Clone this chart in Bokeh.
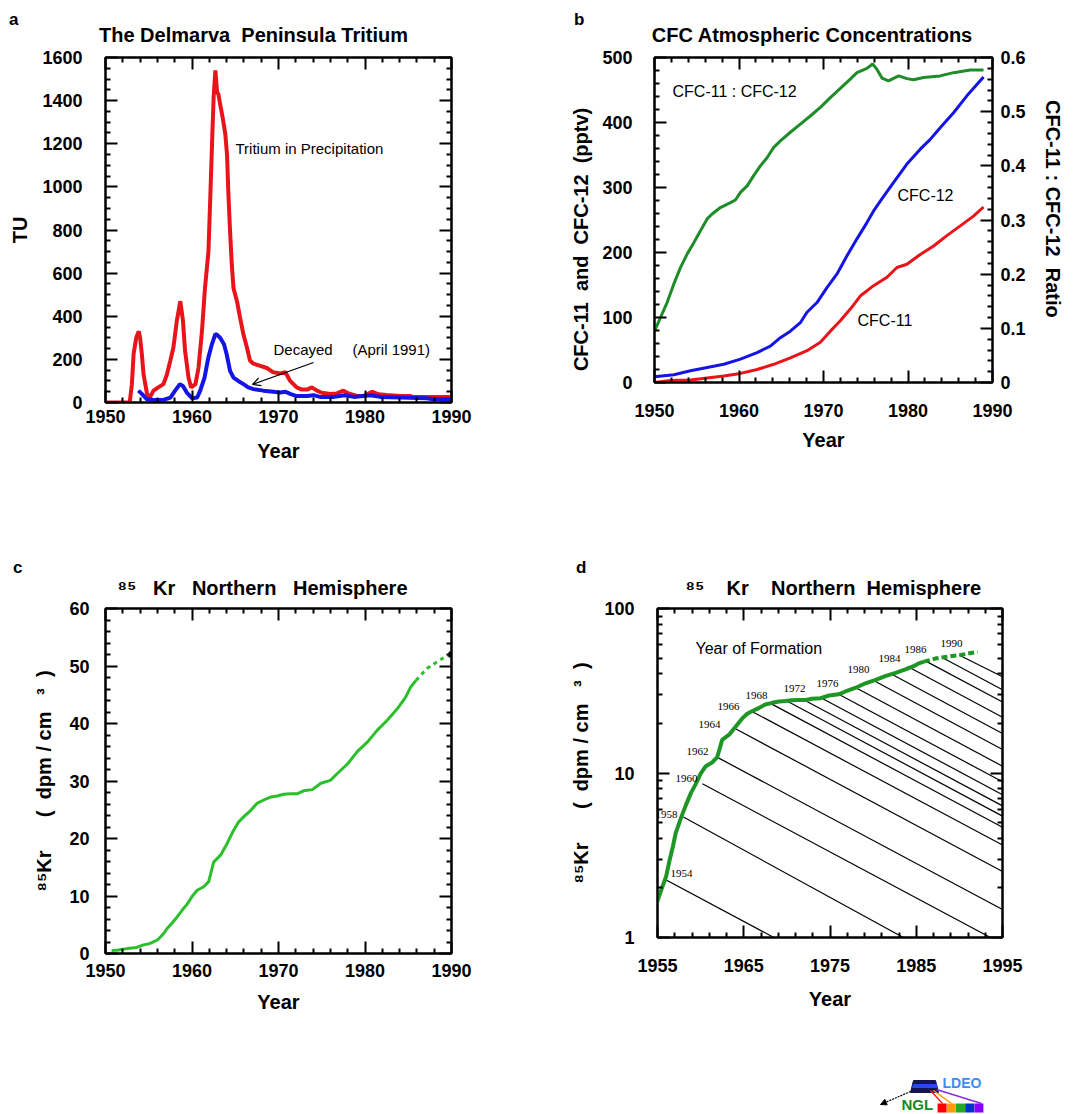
import numpy as np
from bokeh.plotting import figure
from bokeh.models import (Range1d, LinearAxis, FixedTicker, Label, Arrow, OpenHead,
                          NormalHead, CustomJSTickFormatter, Spacer, Title, Div)
from bokeh.layouts import column, row
from bokeh.embed import file_html
from bokeh.resources import INLINE

# ---------------- data ----------------
# a: Delmarva Peninsula tritium
tritium_year = [1950.0, 1952.8, 1953.05, 1953.25, 1953.55, 1953.85, 1954.0, 1954.2, 1954.4, 1954.8,
                1955.15, 1955.55, 1956.1, 1956.7, 1957.1, 1957.5, 1957.85, 1958.25, 1958.65, 1958.95,
                1959.2, 1959.6, 1959.9, 1960.4, 1960.75, 1961.15, 1961.5, 1961.9, 1962.1, 1962.3,
                1962.5, 1962.7, 1962.9, 1963.05, 1963.25, 1963.55, 1963.85, 1964.05, 1964.2, 1964.4,
                1964.6, 1964.8, 1965.2, 1965.55, 1965.95, 1966.35, 1966.7, 1967.1, 1967.9, 1968.65,
                1969.4, 1970.2, 1970.8, 1971.35, 1972.1, 1972.7, 1973.3, 1973.85, 1974.45, 1975.0,
                1976.0, 1976.75, 1977.5, 1978.1, 1979.05, 1979.85, 1980.8, 1981.55, 1982.5, 1984.1,
                1985.2, 1985.6, 1987.9, 1990.0]
tritium_tu = [0, 0, 85, 225, 300, 330, 300, 225, 130, 40,
              25, 55, 70, 85, 130, 195, 255, 380, 470, 380,
              240, 115, 70, 85, 160, 330, 530, 700, 935, 1180,
              1415, 1540, 1440, 1430, 1385, 1320, 1245, 1150, 975, 795,
              640, 530, 470, 395, 315, 255, 195, 180, 170, 160,
              140, 135, 140, 100, 70, 60, 60, 70, 55, 45,
              40, 42, 55, 42, 30, 30, 50, 38, 35, 30,
              30, 25, 25, 25]
decayed_year = [1953.8, 1954.2, 1954.8, 1955.55, 1956.7, 1957.5, 1958.05, 1958.6, 1958.95, 1959.4,
                1960.0, 1960.6, 1960.95, 1961.45, 1961.9, 1962.3, 1962.7, 1962.85, 1963.25, 1963.7,
                1964.0, 1964.4, 1964.8, 1965.35, 1965.95, 1966.5, 1967.1, 1968.25, 1969.4, 1970.2,
                1970.8, 1971.35, 1972.1, 1973.3, 1974.05, 1974.8, 1976.4, 1977.7, 1978.7, 1980.6,
                1981.75, 1984.1, 1987.1, 1987.9, 1990.0]
decayed_tu = [55, 40, 15, 12, 12, 23, 55, 85, 77, 46,
              20, 23, 55, 115, 210, 270, 317, 315, 300, 270,
              225, 147, 115, 100, 85, 70, 62, 55, 50, 46,
              50, 40, 30, 30, 34, 26, 26, 34, 26, 34,
              26, 23, 20, 15, 15]

# b: CFC atmospheric concentrations
ratio_year = [1950.0, 1950.71, 1951.5, 1952.29, 1953.07, 1953.86, 1954.65, 1955.44, 1956.23, 1956.82,
              1957.8, 1958.99, 1959.58, 1960.17, 1960.96, 1961.74, 1962.53, 1963.32, 1964.11, 1964.9,
              1966.08, 1967.26, 1968.44, 1969.63, 1970.81, 1971.99, 1973.17, 1973.96, 1975.14, 1975.81,
              1976.33, 1976.92, 1977.7, 1978.89, 1979.87, 1980.66, 1981.84, 1983.81, 1985.39, 1987.36,
              1988.94]
ratio_val = [0.095, 0.120, 0.148, 0.182, 0.212, 0.237, 0.258, 0.280, 0.302, 0.311,
             0.323, 0.332, 0.337, 0.351, 0.363, 0.382, 0.400, 0.415, 0.434, 0.446,
             0.462, 0.477, 0.492, 0.508, 0.526, 0.543, 0.560, 0.572, 0.580, 0.588,
             0.578, 0.562, 0.557, 0.566, 0.561, 0.559, 0.563, 0.566, 0.572, 0.577,
             0.577]
cfc12_year = [1950.0, 1952.29, 1954.26, 1956.23, 1958.2, 1960.17, 1962.14, 1963.71, 1964.9, 1966.08,
              1967.26, 1968.05, 1969.23, 1970.41, 1971.6, 1972.78, 1973.96, 1975.14, 1975.93, 1976.72,
              1978.3, 1979.87, 1981.45, 1982.63, 1983.81, 1985.39, 1986.97, 1988.94]
cfc12_pptv = [9, 12, 18, 23, 28, 36, 46, 56, 69, 79,
              92, 108, 123, 146, 167, 195, 221, 246, 264, 279,
              308, 336, 359, 374, 392, 415, 441, 470]
cfc11_year = [1950.0, 1951.89, 1954.26, 1956.23, 1958.2, 1960.17, 1962.14, 1964.11, 1966.08, 1968.05,
              1969.63, 1970.81, 1971.99, 1973.17, 1974.35, 1975.93, 1977.51, 1978.69, 1979.87, 1981.45,
              1983.03, 1984.6, 1986.18, 1987.75, 1988.94]
cfc11_pptv = [0, 3, 4, 7, 10, 14, 20, 28, 38, 49,
              62, 79, 95, 113, 133, 149, 162, 177, 182, 197,
              210, 226, 241, 256, 270]

# c, d: 85Kr northern hemisphere (measured part, then dashed estimate)
kr_year = [1950.7, 1951.5, 1952.5, 1953.6, 1954.4, 1955.0, 1955.4, 1956.0, 1956.4, 1956.8,
           1957.1, 1957.7, 1958.3, 1958.9, 1959.4, 1960.0, 1960.6, 1961.35, 1961.93, 1962.5,
           1963.3, 1964.05, 1964.8, 1965.4, 1966.0, 1966.8, 1967.5, 1968.3, 1969.1, 1969.85,
           1970.6, 1971.4, 1972.2, 1972.9, 1973.9, 1974.9, 1976.0, 1976.8, 1978.0, 1979.1,
           1980.3, 1981.4, 1982.6, 1983.75, 1984.7, 1985.3, 1985.9]
kr_dpm = [0.5, 0.6, 0.85, 1.05, 1.5, 1.67, 1.92, 2.35, 2.95, 3.6,
          4.3, 5.3, 6.4, 7.6, 8.5, 9.9, 11.0, 11.6, 12.5, 15.9,
          17.1, 19.1, 21.4, 22.9, 23.8, 24.9, 26.1, 26.7, 27.2, 27.4,
          27.7, 27.8, 27.8, 28.3, 28.5, 29.6, 30.1, 31.3, 33.0, 35.1,
          36.8, 38.8, 40.6, 42.6, 44.6, 46.4, 47.5]
kr_est_year = [1985.9, 1986.45, 1987.2, 1988.0, 1989.15, 1990.0, 1991.0, 1992.1]
kr_est_dpm = [47.5, 48.4, 49.6, 50.4, 51.5, 52.0, 53.2, 54.5]
kr_point_year = [1990.0]
kr_point_dpm = [52.0]

# d: decay lines by year of formation (start and end points)
decay_x0 = [1955.9, 1958.0, 1960.2, 1962.0, 1964.1, 1966.0, 1968.1, 1970.0, 1972.0, 1974.0,
            1976.0, 1978.0, 1980.0, 1982.0, 1984.0, 1986.0, 1988.0, 1990.0]
decay_y0 = [2.25, 5.4, 8.6, 12.4, 18.5, 23.6, 26.5, 27.4, 27.8, 28.6,
            30.1, 33.0, 36.6, 40.3, 44.4, 48.2, 50.4, 52.0]
decay_x1 = [1968.5, 1983.5, 1993.6, 1995, 1995, 1995, 1995, 1995, 1995, 1995,
            1995, 1995, 1995, 1995, 1995, 1995, 1995, 1995]
decay_y1 = [1.0, 1.0, 1.0, 1.48, 2.52, 3.65, 4.68, 5.47, 6.31, 7.38,
            8.85, 11.0, 13.9, 17.4, 21.8, 27.0, 32.1, 38.5]
formation_labels = ["1954", "1958", "1960", "1962", "1964", "1966", "1968", "1972",
                    "1976", "1980", "1984", "1986", "1990"]

# tick labels / tick positions
year_ticks = [1950, 1960, 1970, 1980, 1990]
year_ticks_d = [1955, 1965, 1975, 1985, 1995]
tu_ticks = [0, 200, 400, 600, 800, 1000, 1200, 1400, 1600]
pptv_ticks = [0, 100, 200, 300, 400, 500]
ratio_ticks = [0, 0.1, 0.2, 0.3, 0.4, 0.5, 0.6]
kr_ticks = [0, 10, 20, 30, 40, 50, 60]
kr_log_ticks = [1, 10, 100]

# ---------------- styling helpers ----------------
FONT = "Liberation Sans"
NB = "\u00a0"


def blank_fmt():
    return CustomJSTickFormatter(code="return '\\u00a0'")


def style_axis(ax, standoff=5, size="18px"):
    ax.axis_line_width = 2
    ax.axis_line_color = "black"
    ax.major_tick_in = 12
    ax.major_tick_out = 0
    ax.minor_tick_in = 5
    ax.minor_tick_out = 0
    ax.major_tick_line_width = 2
    ax.minor_tick_line_width = 2
    ax.major_tick_line_color = "black"
    ax.minor_tick_line_color = "black"
    ax.major_label_text_font = FONT
    ax.major_label_text_font_style = "bold"
    ax.major_label_text_font_size = size
    ax.major_label_text_color = "black"
    ax.major_label_standoff = int(standoff)
    ax.axis_label_text_font = FONT
    ax.axis_label_text_font_style = "bold"
    ax.axis_label_text_font_size = "20px"
    ax.axis_label_text_color = "black"


def make_fig(width, height, left, right, top, bottom, xr, yr, ytype="linear"):
    p = figure(width=width, height=height, x_range=xr, y_range=yr, y_axis_type=ytype,
               output_backend="svg", toolbar_location=None,
               min_border_left=left, min_border_right=right,
               min_border_top=top, min_border_bottom=bottom)
    p.grid.visible = False
    p.outline_line_color = "black"
    p.outline_line_width = 2
    p.background_fill_color = "white"
    p.border_fill_color = "white"
    return p


def minor_list(lo, hi, step, majors):
    n = int(round((hi - lo) / step))
    vals = [round(lo + i * step, 4) for i in range(n + 1)]
    return [v for v in vals if all(abs(v - m) > 1e-9 for m in majors)]


def setup_axes(p, xt, yt, xstand, ystand, top_gap, right_blank=True, yfmt=None):
    bx = p.below[0]
    ly = p.left[0]
    bx.ticker = xt
    ly.ticker = yt
    if yfmt is not None:
        ly.formatter = yfmt
    style_axis(bx, standoff=xstand)
    style_axis(ly, standoff=ystand)
    top = LinearAxis(ticker=xt, formatter=blank_fmt())
    style_axis(top, standoff=top_gap, size="1px")
    p.add_layout(top, "above")
    if right_blank:
        r = LinearAxis(ticker=yt, formatter=blank_fmt())
        style_axis(r, standoff=0, size="1px")
        p.add_layout(r, "right")
    return bx, ly


def add_title(p, text, align="center", offset=0):
    p.add_layout(Title(text=text, align=align, offset=offset, standoff=0,
                       vertical_align="bottom", text_font=FONT, text_font_size="20px",
                       text_font_style="bold", text_color="black"), "above")


def mapper(fl, fr, ft, fb, x0, x1, y0, y1, log=False):
    def fx(px):
        return x0 + (px - fl) / (fr - fl) * (x1 - x0)

    def fy(py):
        t = (fb - py) / (fb - ft)
        if log:
            return 10 ** (np.log10(y0) + t * (np.log10(y1) - np.log10(y0)))
        return y0 + t * (y1 - y0)
    return fx, fy


def lab(p, m, px, py, text, size, bold=False, align="left", angle=0.0, color="black",
        font=FONT):
    fx, fy = m
    p.add_layout(Label(x=fx(px), y=fy(py), text=text, text_font=font, text_font_size=size,
                       text_font_style="bold" if bold else "normal", text_align=align,
                       text_baseline="middle", angle=angle, text_color=color))


def letter(txt, width, height, shift):
    return Div(text=txt, width=width, height=height, margin=(0, 0, 0, 0),
               styles={"font-family": FONT, "font-weight": "bold", "font-size": "17px",
                       "line-height": f"{height}px", "color": "black", "position": "relative",
                       "top": f"{shift}px", "z-index": "5", "overflow": "visible"})


RED = "#e8141a"
BLUE = "#1414e6"
GREEN_B = "#1e8c28"
GREEN_C = "#2cbf2c"
GREEN_D = "#1e9626"
KR_LABEL = ("\u2078\u2075Kr" + NB * 6 + "(" + NB * 2 + "dpm / cm" + NB * 3 + "\u00b3" + NB * 2 + ")")

# ---------------- panel a ----------------
pa = make_fig(548, 541, 105, 97, 37, 159, Range1d(1950, 1990), Range1d(0, 1600))
ax_b, ax_l = setup_axes(pa,
                        FixedTicker(ticks=year_ticks, minor_ticks=minor_list(1950, 1990, 2, year_ticks)),
                        FixedTicker(ticks=tu_ticks, minor_ticks=minor_list(0, 1600, 50, tu_ticks)),
                        xstand=7, ystand=23, top_gap=8)
ax_b.axis_label = "Year"
ax_b.axis_label_standoff = 14
ax_l.axis_label = "TU"
ax_l.axis_label_standoff = 8
add_title(pa, "The Delmarva" + NB + " Peninsula Tritium" + NB * 9)
pa.line(tritium_year, tritium_tu, line_color=RED, line_width=4)
pa.line(decayed_year, decayed_tu, line_color=BLUE, line_width=4)
ma = mapper(105, 451, 57, 402, 1950, 1990, 0, 1600)
lab(pa, ma, 235, 148, "Tritium in Precipitation", "15px")
lab(pa, ma, 273, 349, "Decayed", "15px")
lab(pa, ma, 352, 349, "(April 1991)", "15px")
fx, fy = ma
pa.add_layout(Arrow(end=OpenHead(size=8, line_width=1.2, line_color="black"),
                    x_start=fx(313), y_start=fy(362), x_end=fx(252), y_end=fy(384),
                    line_width=1.2, line_color="black"))

# ---------------- panel b ----------------
pb = make_fig(525, 521, 106, 81, 37, 159, Range1d(1950, 1990), Range1d(0, 500))
pb.extra_y_ranges = {"ratio": Range1d(0, 0.6)}
ax_b, ax_l = setup_axes(pb,
                        FixedTicker(ticks=year_ticks, minor_ticks=minor_list(1950, 1990, 2, year_ticks)),
                        FixedTicker(ticks=pptv_ticks, minor_ticks=minor_list(0, 500, 20, pptv_ticks)),
                        xstand=21, ystand=22, top_gap=8, right_blank=False)
rax = LinearAxis(y_range_name="ratio",
                 ticker=FixedTicker(ticks=ratio_ticks, minor_ticks=minor_list(0, 0.6, 0.02, ratio_ticks)),
                 formatter=CustomJSTickFormatter(code="return String(Math.round(tick*10)/10)"))
style_axis(rax, standoff=8)
rax.axis_label = "CFC-11 : CFC-12" + NB * 2 + "Ratio" + NB * 4
rax.axis_label_standoff = 13
pb.add_layout(rax, "right")
ax_b.axis_label = "Year"
ax_b.axis_label_standoff = 9
ax_l.axis_label = ("CFC-11" + NB * 2 + "and" + NB * 2 + "CFC-12" + NB * 2 + "(pptv)" + NB * 7)
ax_l.axis_label_standoff = 7
add_title(pb, "CFC Atmospheric Concentrations" + NB * 4)
pb.line(ratio_year, ratio_val, line_color=GREEN_B, line_width=3, y_range_name="ratio")
pb.line(cfc12_year, cfc12_pptv, line_color=BLUE, line_width=3)
pb.line(cfc11_year, cfc11_pptv, line_color=RED, line_width=3)
mb = mapper(654, 992, 57, 382, 1950, 1990, 0, 500)
lab(pb, mb, 672, 91, "CFC-11 : CFC-12", "16px")
lab(pb, mb, 897, 195, "CFC-12", "16px")
lab(pb, mb, 857, 320, "CFC-11", "16px")

# ---------------- panel c ----------------
pc = make_fig(548, 460, 105, 97, 35, 80, Range1d(1950, 1990), Range1d(0, 60))
ax_b, ax_l = setup_axes(pc,
                        FixedTicker(ticks=year_ticks, minor_ticks=minor_list(1950, 1990, 2, year_ticks)),
                        FixedTicker(ticks=kr_ticks, minor_ticks=minor_list(0, 60, 2, kr_ticks)),
                        xstand=10, ystand=16, top_gap=6)
ax_b.axis_label = "Year"
ax_b.axis_label_standoff = 11
ax_l.axis_label = KR_LABEL
ax_l.axis_label_standoff = 11
add_title(pc, "\u2078\u2075" + NB * 3 + "Kr" + NB * 3 + "Northern" + NB * 3 + "Hemisphere",
          align="left", offset=12)
pc.line(kr_year, kr_dpm, line_color=GREEN_C, line_width=3)
pc.line(kr_est_year, kr_est_dpm, line_color=GREEN_C, line_width=3, line_dash="4 4")
pc.scatter(kr_point_year, kr_point_dpm, marker="square", size=5, color="black")

# ---------------- panel d ----------------
pd_ = make_fig(525, 444, 109, 71, 35, 80, Range1d(1955, 1995), Range1d(1, 100), ytype="log")
ax_b, ax_l = setup_axes(pd_,
                        FixedTicker(ticks=year_ticks_d, minor_ticks=minor_list(1955, 1995, 2, year_ticks_d)),
                        FixedTicker(ticks=kr_log_ticks,
                                    minor_ticks=[2, 3, 4, 5, 6, 7, 8, 9, 20, 30, 40, 50, 60, 70, 80, 90]),
                        xstand=21, ystand=23, top_gap=6,
                        yfmt=CustomJSTickFormatter(code="return String(tick)"))
ax_b.axis_label = "Year"
ax_b.axis_label_standoff = 13
ax_l.axis_label = KR_LABEL
ax_l.axis_label_standoff = 9
add_title(pd_, "\u2078\u2075" + NB * 4 + "Kr" + NB * 4 + "Northern" + NB * 2 + "Hemisphere",
          align="left", offset=28)
pd_.segment(decay_x0, decay_y0, decay_x1, decay_y1, line_color="black", line_width=1.2)
pd_.line(kr_year, kr_dpm, line_color=GREEN_D, line_width=4)
pd_.line(kr_est_year, kr_est_dpm, line_color=GREEN_D, line_width=4, line_dash="6 3")
md = mapper(657, 1002, 608, 937, 1955, 1995, 1, 100, log=True)
lab(pd_, md, 695, 648, "Year of Formation", "16px")
formation_pos = [(670, 873), (655, 814), (675, 778), (686, 751), (698, 724), (717, 706),
                 (745, 695), (783, 688), (816, 683), (847, 669), (878, 658), (904, 649),
                 (940, 643)]
for txt, (px, py) in zip(formation_labels, formation_pos):
    lab(pd_, md, px, py, txt, "11px", font="Liberation Serif")

# ---------------- logo ----------------
pl = figure(width=150, height=80, x_range=Range1d(0, 150), y_range=Range1d(0, 80),
            x_axis_type=None, y_axis_type=None, output_backend="svg", toolbar_location=None,
            min_border=0)
pl.grid.visible = False
pl.outline_line_color = None
pl.border_fill_color = "white"
pl.background_fill_color = "white"
prism_x = [50, 78, 75, 53]
prism_y = [21, 21, 33, 33]
pl.patch(prism_x, prism_y, fill_color="#141450", line_color="#141450")
pl.patch([52, 77, 76, 53], [26, 26, 29, 29], fill_color="#2a48f0", line_color="#2a48f0")
ray_x0 = [70, 73, 76]
ray_y0 = [23, 23, 24]
ray_x1 = [82, 91, 121]
ray_y1 = [10, 10, 10]
pl.segment(ray_x0, ray_y0, ray_x1, ray_y1, line_color=["#ff2020", "#ff9900", "#8a2be2"], line_width=1.5)
sq_colors = ["#ff0000", "#ff9900", "#22aa22", "#0033cc", "#8800ff"]
sq_x = [81.6, 90.8, 100.0, 109.2, 118.4]
pl.rect(sq_x, [5.5] * 5, width=9, height=9, fill_color=sq_colors, line_color=None)
pl.add_layout(Arrow(end=NormalHead(size=6, fill_color="black", line_color="black"),
                    x_start=50, y_start=22, x_end=20, y_end=9, line_dash="2 1",
                    line_width=1.2, line_color="black"))
pl.add_layout(Label(x=82, y=31, text="LDEO", text_font=FONT, text_font_size="14px",
                    text_font_style="bold", text_color="#3a8ef0", text_baseline="middle"))
pl.add_layout(Label(x=41, y=9, text="NGL", text_font=FONT, text_font_size="15px",
                    text_font_style="bold", text_color="#138a1c", text_baseline="middle"))

layout = column(
    row(Spacer(width=9, height=20), letter("a", 565, 20, 10), letter("b", 499, 20, 10)),
    row(pa, pb),
    row(Spacer(width=13, height=12), letter("c", 563, 12, 1), letter("d", 497, 12, 1)),
    row(pc, pd_),
    row(Spacer(width=860, height=80), pl),
)
open("out.html", "w").write(file_html(layout, INLINE))
